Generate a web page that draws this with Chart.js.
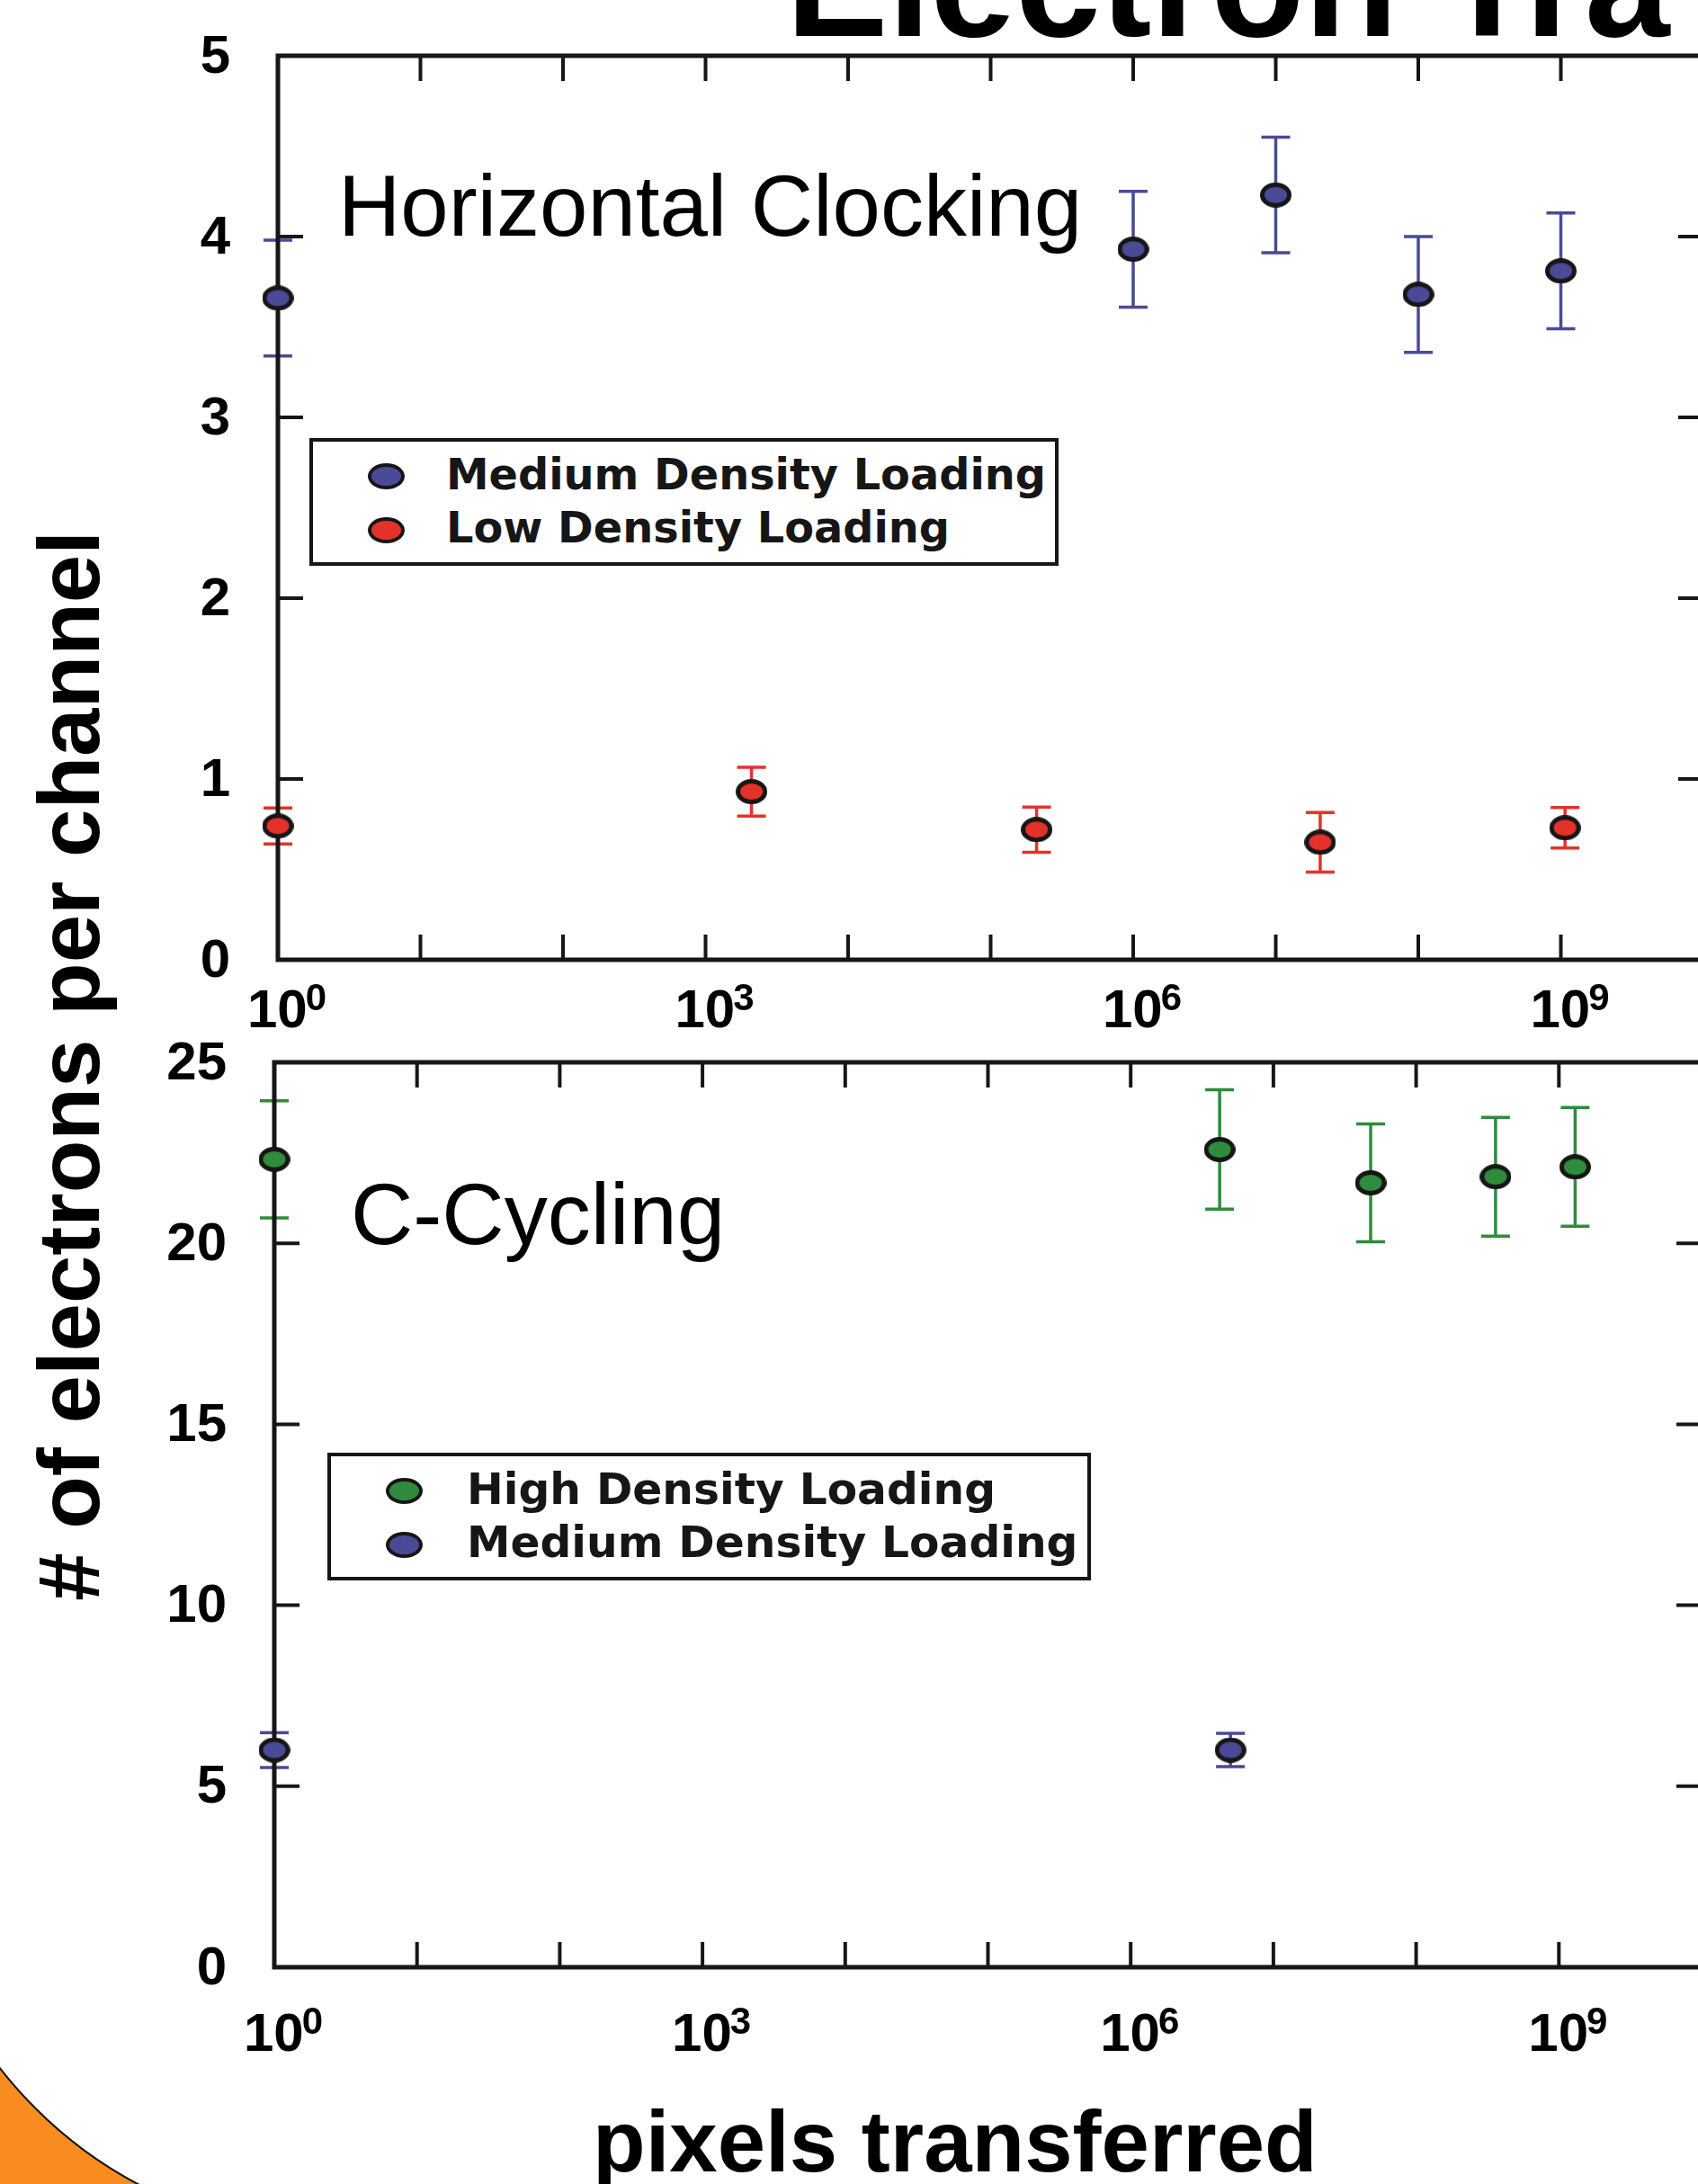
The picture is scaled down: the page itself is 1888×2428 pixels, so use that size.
<!DOCTYPE html>
<html>
<head>
<meta charset="utf-8">
<script src="https://cdn.jsdelivr.net/npm/chart.js@4.4.1/dist/chart.umd.min.js"></script>
<style>
  html, body { margin: 0; padding: 0; width: 1888px; height: 2428px; overflow: hidden; background: #ffffff; }
  .abs { position: absolute; white-space: nowrap; color: #000; }
  canvas { position: absolute; left: 0; }
  .lgbox { position: absolute; box-sizing: border-box; border: 4px solid #161616; background: #fff; }
  .lgmark { position: absolute; box-sizing: border-box; border: 4px solid #161616; border-radius: 50%; }
  .lgtext { position: absolute; white-space: nowrap; font-family: 'DejaVu Sans'; font-weight: bold; color: #161616; }
</style>
</head>
<body>
<div class="abs" style="left:874px;top:-104px;font:bold 170px 'Liberation Sans';line-height:170px;">Electron Tra</div>

<canvas id="top" width="1950" height="1160" style="top:0px"></canvas>
<canvas id="bottom" width="1950" height="1328" style="top:1100px"></canvas>

<div class="abs" style="left:376px;top:181px;font:96px 'Liberation Sans';line-height:96px;">Horizontal Clocking</div>
<div class="abs" style="left:390px;top:1302px;font:96px 'Liberation Sans';line-height:96px;">C-Cycling</div>

<div class="abs" style="left:-623px;top:1137px;width:1400px;height:96px;text-align:center;font:bold 96px 'Liberation Sans';line-height:96px;transform:rotate(-90deg);">
# of electrons per channel</div>
<div class="abs" style="left:659px;top:2333px;font:bold 96px 'Liberation Sans';line-height:96px;">pixels transferred</div>

<div style="position:absolute;left:0;top:2250px;width:200px;height:178px;overflow:hidden;background:#f88c1e;">
  <div style="position:absolute;left:-102px;top:-725px;width:960px;height:960px;box-sizing:border-box;border-radius:50%;background:#fff;border:2px solid #111;"></div>
</div>

<div id="legends"></div>

<script>
// ---------- data ----------
const xTickValues = [1, 1e1, 1e2, 1e3, 1e4, 1e5, 1e6, 1e7, 1e8, 1e9, 1e10];
const xTickBase = '10';
const xTickExponents = ['0', '', '', '3', '', '', '6', '', '', '9', ''];

// Horizontal Clocking panel
const hcNames = ['Medium Density Loading', 'Low Density Loading'];
const hcYTicks = [0, 1, 2, 3, 4, 5];
const hcMedX = [1, 1e6, 1e7, 1e8, 1e9];
const hcMedY = [3.66, 3.93, 4.23, 3.68, 3.81];
const hcMedErr = [0.32, 0.32, 0.32, 0.32, 0.32];
const hcLowX = [1, 2.1e3, 2.1e5, 2.05e7, 1.07e9];
const hcLowY = [0.74, 0.93, 0.72, 0.65, 0.73];
const hcLowErr = [0.10, 0.135, 0.125, 0.165, 0.112];

// C-Cycling panel
const ccNames = ['High Density Loading', 'Medium Density Loading'];
const ccYTicks = [0, 5, 10, 15, 20, 25];
const ccHighX = [1, 4.2e6, 4.8e7, 3.6e8, 1.3e9];
const ccHighY = [22.32, 22.59, 21.67, 21.84, 22.11];
const ccHighErr = [1.62, 1.65, 1.63, 1.64, 1.64];
const ccMedX = [1, 5.0e6];
const ccMedY = [6.0, 6.0];
const ccMedErr = [0.48, 0.46];

// ---------- styles ----------
const BLUE = '#4a4a96', RED = '#e4322a', GREEN = '#2e8c3c', INK = '#161616';

function makeMarker(fill, w, h, lw) {
  const c = document.createElement('canvas');
  c.width = w; c.height = h;
  const g = c.getContext('2d');
  g.beginPath();
  g.ellipse(w / 2, h / 2, (w - lw) / 2, (h - lw) / 2, 0, 0, Math.PI * 2);
  g.fillStyle = fill; g.fill();
  g.lineWidth = lw; g.strokeStyle = INK; g.stroke();
  return c;
}

const frameAndErrors = {
  id: 'frameAndErrors',
  beforeDatasetsDraw(chart) {
    const { ctx, chartArea: a, scales: { x, y } } = chart;
    ctx.save();
    // error bars
    chart.data.datasets.forEach(ds => {
      ctx.strokeStyle = ds.errColor;
      ctx.lineWidth = 3.5;
      ds.data.forEach((p, j) => {
        const px = x.getPixelForValue(p.x);
        const pt = y.getPixelForValue(p.y + ds.yErr[j]);
        const pb = y.getPixelForValue(p.y - ds.yErr[j]);
        ctx.beginPath();
        ctx.moveTo(px, pt); ctx.lineTo(px, pb);
        ctx.moveTo(px - 16, pt); ctx.lineTo(px + 16, pt);
        ctx.moveTo(px - 16, pb); ctx.lineTo(px + 16, pb);
        ctx.stroke();
      });
    });
    // inward ticks on all four sides
    const L = 28;
    ctx.strokeStyle = INK;
    ctx.lineWidth = 4;
    ctx.beginPath();
    x.ticks.forEach(t => {
      const px = x.getPixelForValue(t.value);
      ctx.moveTo(px, a.bottom); ctx.lineTo(px, a.bottom - L);
      ctx.moveTo(px, a.top); ctx.lineTo(px, a.top + L);
    });
    y.ticks.forEach(t => {
      const py = y.getPixelForValue(t.value);
      ctx.moveTo(a.left, py); ctx.lineTo(a.left + L, py);
      ctx.moveTo(a.right, py); ctx.lineTo(a.right - L, py);
    });
    ctx.stroke();
    ctx.lineWidth = 5;
    ctx.strokeRect(a.left, a.top, a.right - a.left, a.bottom - a.top);
    ctx.restore();
  },
  afterDraw(chart, args, opts) {
    // power-of-ten tick labels with raised exponents
    const { ctx, chartArea: a, scales: { x } } = chart;
    ctx.save();
    ctx.fillStyle = '#000';
    ctx.textBaseline = 'alphabetic';
    ctx.textAlign = 'left';
    const base = a.bottom + opts.labelDrop;
    xTickValues.forEach((v, i) => {
      const e = xTickExponents[i];
      if (!e) return;
      const px = x.getPixelForValue(v);
      const x0 = px - 34;
      ctx.font = 'bold 60px "Liberation Sans"';
      ctx.fillText(xTickBase, x0, base);
      const w = ctx.measureText(xTickBase).width;
      ctx.font = 'bold 42px "Liberation Sans"';
      ctx.fillText(e, x0 + w - 2, base - 19);
    });
    ctx.restore();
  }
};

Chart.defaults.font.family = 'Liberation Sans';
Chart.defaults.color = '#000';

function ds(name, xs, ys, errs, color) {
  return {
    label: name,
    data: xs.map((v, i) => ({ x: v, y: ys[i] })),
    yErr: errs,
    errColor: color,
    backgroundColor: color,
    borderColor: INK,
    pointStyle: makeMarker(color, 35, 28, 5),
    pointRadius: 14,
    clip: false
  };
}

function makeChart(id, datasets, yTicks, opts) {
  return new Chart(document.getElementById(id), {
    type: 'scatter',
    data: { datasets },
    options: {
      responsive: false,
      animation: false,
      devicePixelRatio: 1,
      events: [],
      layout: { padding: opts.padding },
      plugins: {
        legend: { display: false },
        tooltip: { enabled: false },
        frameAndErrors: { labelDrop: opts.labelDrop }
      },
      scales: {
        x: {
          type: 'logarithmic',
          min: xTickValues[0],
          max: xTickValues[xTickValues.length - 1],
          afterBuildTicks: s => { s.ticks = xTickValues.map(v => ({ value: v })); },
          afterFit: s => { s.height = opts.xHeight; s.paddingLeft = 0; s.paddingRight = 0; },
          grid: { display: false, drawTicks: false },
          border: { display: false },
          ticks: { display: false }
        },
        y: {
          type: 'linear',
          min: yTicks[0],
          max: yTicks[yTicks.length - 1],
          afterBuildTicks: s => { s.ticks = yTicks.map(v => ({ value: v })); },
          afterFit: s => { s.width = opts.yWidth; s.paddingTop = 0; s.paddingBottom = 0; },
          grid: { display: false, drawTicks: false },
          border: { display: false },
          ticks: {
            padding: 53,
            labelOffset: 2,
            font: { size: 60, weight: 'bold' },
            callback: v => String(v)
          }
        }
      }
    },
    plugins: [frameAndErrors]
  });
}

const topChart = makeChart('top', [
  ds(hcNames[0], hcMedX, hcMedY, hcMedErr, BLUE),
  ds(hcNames[1], hcLowX, hcLowY, hcLowErr, RED)
], hcYTicks, { padding: { left: 0, top: 62, right: 56, bottom: 0 }, xHeight: 93, yWidth: 309, labelDrop: 75 });

const bottomChart = makeChart('bottom', [
  ds(ccNames[0], ccHighX, ccHighY, ccHighErr, GREEN),
  ds(ccNames[1], ccMedX, ccMedY, ccMedErr, BLUE)
], ccYTicks, { padding: { left: 0, top: 81, right: 58, bottom: 111 }, xHeight: 130, yWidth: 305, labelDrop: 93 });

// ---------- HTML legends built from the chart datasets ----------
function buildLegend(chart, left, top, width, height, fontSize, textDx) {
  const root = document.getElementById('legends');
  const box = document.createElement('div');
  box.className = 'lgbox';
  Object.assign(box.style, { left: left + 'px', top: top + 'px', width: width + 'px', height: height + 'px' });
  root.appendChild(box);
  chart.data.datasets.forEach((d, i) => {
    const cy = top + 42.5 + 59.5 * i;
    const m = document.createElement('div');
    m.className = 'lgmark';
    Object.assign(m.style, { left: (left + 85 - 20.5) + 'px', top: (cy - 14.5) + 'px', width: '41px', height: '29px', background: d.backgroundColor });
    root.appendChild(m);
    const t = document.createElement('div');
    t.className = 'lgtext';
    t.textContent = d.label;
    Object.assign(t.style, {
      fontSize: fontSize + 'px', lineHeight: fontSize + 'px',
      left: (left + textDx) + 'px',
      top: (top + 57 + 59.5 * i - 0.8465 * fontSize) + 'px'
    });
    root.appendChild(t);
  });
}
buildLegend(topChart, 344, 487, 833, 142, 47.8, 152);
buildLegend(bottomChart, 364, 1615, 849, 142, 48.7, 155);
</script>
</body>
</html>
